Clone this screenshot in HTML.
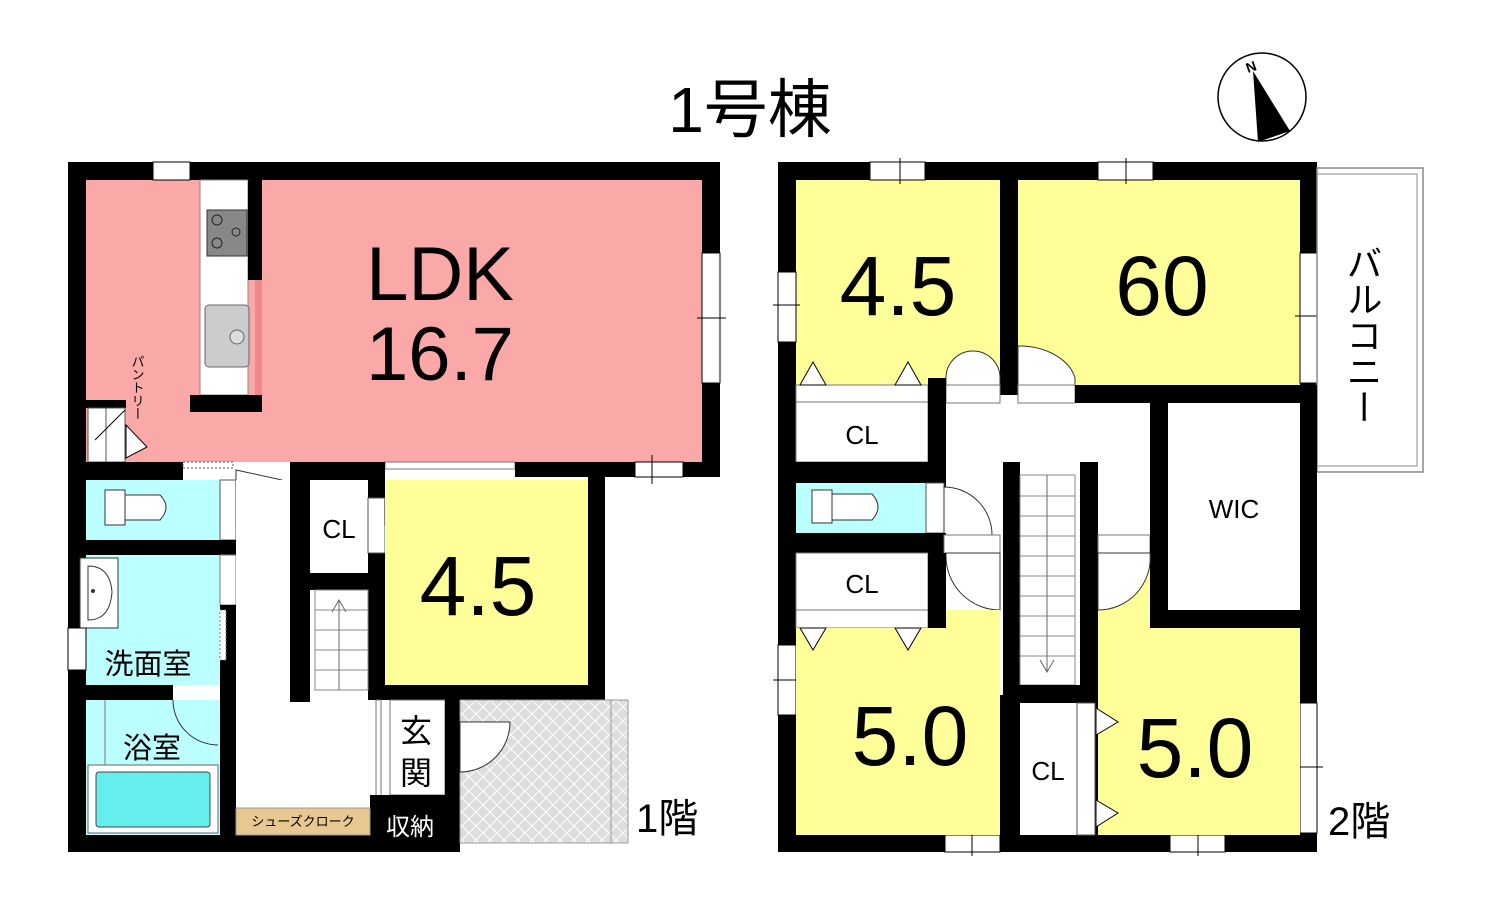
<!DOCTYPE html>
<html><head><meta charset="utf-8"><style>
html,body{margin:0;padding:0;background:#fff}
svg{display:block}
text{font-family:"Liberation Sans","Noto Sans CJK JP",sans-serif}
</style></head><body>
<svg width="1488" height="898" viewBox="0 0 1488 898" xmlns="http://www.w3.org/2000/svg">
<defs>
<pattern id="hatch" width="14" height="14" patternUnits="userSpaceOnUse">
<rect width="14" height="14" fill="#ddd"/>
<path d="M0 0L14 14M14 0L0 14" stroke="#fff" stroke-width="1"/>
</pattern>
</defs>
<text x="750" y="132" font-size="64" text-anchor="middle">1号棟</text>
<!-- compass -->
<circle cx="1262" cy="97" r="44" fill="#fff" stroke="#000" stroke-width="1.5"/>
<polygon points="1253,71 1258,142 1290,131" fill="#000"/>
<text x="1246" y="72" font-size="14" font-family="Liberation Serif" transform="rotate(-20 1250 67)" font-weight="bold">N</text>

<!-- ===== 1F ===== -->
<rect x="68" y="162" width="652" height="300" fill="#000"/>
<rect x="86" y="180" width="616" height="282" fill="#fba8a8"/>
<text x="440" y="300" font-size="76" text-anchor="middle">LDK</text>
<text x="440" y="380" font-size="76" text-anchor="middle">16.7</text>
<!-- kitchen -->
<rect x="200" y="180" width="48" height="215" fill="#fff" stroke="#888" stroke-width="1"/>
<rect x="248" y="180" width="14" height="100" fill="#000"/>
<rect x="190" y="395" width="72" height="17" fill="#000"/>
<rect x="255" y="280" width="7" height="115" fill="#f08a8a"/>
<rect x="207" y="210" width="40" height="46" fill="#888" stroke="#333"/>
<circle cx="217" cy="220" r="5" fill="none" stroke="#222"/><circle cx="217" cy="243" r="5" fill="none" stroke="#222"/><circle cx="236" cy="232" r="4" fill="none" stroke="#222"/>
<rect x="205" y="305" width="44" height="62" rx="4" fill="#ccc" stroke="#666"/>
<circle cx="237" cy="337" r="7" fill="#ddd" stroke="#666"/>
<!-- windows top/right -->
<rect x="153" y="162" width="37" height="18" fill="#fff" stroke="#000"/>
<rect x="702" y="253" width="18" height="130" fill="#fff" stroke="#000"/>
<line x1="697" y1="318" x2="726" y2="318" stroke="#000"/>
<!-- pantry -->
<rect x="86" y="400" width="40" height="8" fill="#000"/>
<rect x="88" y="408" width="37" height="54" fill="#fff" stroke="#555"/>
<line x1="106" y1="408" x2="106" y2="462" stroke="#555"/>
<line x1="95" y1="440" x2="125" y2="410" stroke="#000"/>
<polygon points="126,425 147,447 126,458" fill="#fff" stroke="#000"/>
<text font-size="13" x="137" y="355" writing-mode="tb">パントリー</text>
<!-- lower outer walls -->
<rect x="68" y="462" width="18" height="390" fill="#000"/>
<rect x="68" y="835" width="392" height="17" fill="#000"/>
<rect x="68" y="462" width="115" height="18" fill="#000"/>
<rect x="183" y="462" width="50" height="6" fill="#fff" stroke="#555" stroke-dasharray="2 2"/>
<rect x="290" y="462" width="95" height="18" fill="#000"/>
<rect x="385" y="462" width="130" height="7" fill="#fff" stroke="#777"/>
<rect x="515" y="462" width="205" height="15" fill="#000"/>
<rect x="635" y="462" width="48" height="15" fill="#fff" stroke="#000"/>
<line x1="652" y1="455" x2="652" y2="484" stroke="#000"/>
<!-- toilet 1F -->
<rect x="86" y="480" width="134" height="60" fill="#bff"/>
<rect x="105" y="490" width="20" height="35" fill="#fff" stroke="#333"/>
<path d="M125 495 H160 Q172 507 160 520 H125 Z" fill="#fff" stroke="#333"/>
<rect x="220" y="480" width="16" height="75" fill="#000"/>
<rect x="220" y="480" width="16" height="60" fill="#fff" stroke="#555"/>
<path d="M236 470 V527 A40 40 0 0 0 282 480 Z" fill="#fff" stroke="#333"/>
<rect x="68" y="540" width="168" height="15" fill="#000"/>
<!-- washroom -->
<rect x="86" y="555" width="134" height="130" fill="#bff"/>
<rect x="80" y="558" width="38" height="70" fill="#fff" stroke="#333"/>
<path d="M88 566 Q110 566 112 592 Q110 620 88 620 Z" fill="#fff" stroke="#333"/>
<circle cx="93" cy="591" r="2" fill="#333"/>
<rect x="68" y="628" width="18" height="42" fill="#fff" stroke="#000"/>
<rect x="220" y="555" width="16" height="50" fill="#fff" stroke="#777"/>
<rect x="220" y="605" width="16" height="230" fill="#000"/>
<rect x="220" y="610" width="6" height="50" fill="#fff" stroke="#777" stroke-dasharray="2 2"/>
<text x="148" y="674" font-size="29" text-anchor="middle">洗面室</text>
<rect x="68" y="685" width="105" height="15" fill="#000"/>
<!-- bath -->
<rect x="86" y="700" width="134" height="135" fill="#bff"/>
<rect x="173" y="685" width="47" height="15" fill="#fff"/>
<path d="M173 700 A45 45 0 0 0 218 745" fill="none" stroke="#333"/>
<line x1="105" y1="700" x2="105" y2="765" stroke="#777"/>
<text x="152" y="758" font-size="29" text-anchor="middle">浴室</text>
<rect x="88" y="765" width="130" height="68" fill="#fff" stroke="#666"/>
<rect x="96" y="772" width="114" height="55" rx="3" fill="#6ee" stroke="#444"/>
<!-- hallway / CL / stairs -->
<rect x="236" y="480" width="140" height="355" fill="#fff"/>
<rect x="290" y="462" width="20" height="240" fill="#000"/>
<rect x="310" y="480" width="58" height="93" fill="#fff"/>
<text x="339" y="538" font-size="26" text-anchor="middle">CL</text>
<rect x="368" y="462" width="17" height="238" fill="#000"/>
<rect x="368" y="498" width="17" height="55" fill="#fff" stroke="#555"/>
<polygon points="385,500 407,512 385,525" fill="#fff" stroke="#000"/>
<rect x="310" y="573" width="58" height="17" fill="#000"/>
<rect x="315" y="590" width="53" height="100" fill="#fff" stroke="#888"/>
<g stroke="#888"><line x1="315" y1="610" x2="368" y2="610"/><line x1="315" y1="630" x2="368" y2="630"/><line x1="315" y1="650" x2="368" y2="650"/><line x1="315" y1="670" x2="368" y2="670"/></g>
<line x1="339" y1="600" x2="339" y2="690" stroke="#666"/>
<polyline points="332,612 339,600 346,612" fill="none" stroke="#666"/>
<!-- 4.5 room -->
<rect x="385" y="480" width="203" height="205" fill="#ffff99"/>
<rect x="588" y="462" width="17" height="238" fill="#000"/>
<rect x="370" y="685" width="235" height="15" fill="#000"/>
<text x="478" y="615" font-size="84" text-anchor="middle">4.5</text>
<!-- genkan -->
<rect x="390" y="700" width="55" height="95" fill="#fff" stroke="#777"/>
<rect x="376" y="700" width="5" height="100" fill="#fff" stroke="#777"/>
<text x="416" y="742" font-size="32" text-anchor="middle">玄</text>
<text x="416" y="784" font-size="32" text-anchor="middle">関</text>
<rect x="445" y="700" width="15" height="152" fill="#000"/>
<rect x="370" y="795" width="90" height="57" fill="#000"/>
<text x="410" y="835" font-size="24" text-anchor="middle" fill="#fff">収納</text>
<rect x="236" y="808" width="134" height="27" fill="#e8c890" stroke="#999"/>
<text x="303" y="826" font-size="13" text-anchor="middle">シューズクローク</text>
<!-- porch -->
<rect x="460" y="700" width="168" height="143" fill="url(#hatch)" stroke="#999"/>
<line x1="611" y1="700" x2="611" y2="843" stroke="#999"/>
<path d="M460 722 H510 A50 50 0 0 1 460 772 Z" fill="#fff" stroke="#333"/>
<text x="636" y="832" font-size="40">1階</text>

<!-- ===== 2F ===== -->
<rect x="778" y="162" width="539" height="690" fill="#000"/>
<rect x="796" y="180" width="204" height="205" fill="#ffff99"/>
<rect x="1018" y="180" width="282" height="205" fill="#ffff99"/>
<text x="898" y="315" font-size="84" text-anchor="middle">4.5</text>
<text x="1162" y="315" font-size="84" text-anchor="middle">60</text>
<!-- windows -->
<rect x="870" y="162" width="55" height="18" fill="#fff" stroke="#000"/>
<line x1="900" y1="158" x2="900" y2="184" stroke="#000"/>
<rect x="1098" y="162" width="55" height="18" fill="#fff" stroke="#000"/>
<line x1="1126" y1="158" x2="1126" y2="184" stroke="#000"/>
<rect x="778" y="272" width="18" height="70" fill="#fff" stroke="#000"/>
<line x1="773" y1="305" x2="800" y2="305" stroke="#000"/>
<rect x="1300" y="253" width="17" height="130" fill="#fff" stroke="#000"/>
<line x1="1295" y1="316" x2="1323" y2="316" stroke="#000"/>
<rect x="778" y="645" width="18" height="70" fill="#fff" stroke="#000"/>
<line x1="773" y1="680" x2="800" y2="680" stroke="#000"/>
<rect x="1300" y="703" width="17" height="130" fill="#fff" stroke="#000"/>
<line x1="1295" y1="767" x2="1323" y2="767" stroke="#000"/>
<rect x="945" y="835" width="55" height="17" fill="#fff" stroke="#000"/>
<line x1="972" y1="830" x2="972" y2="856" stroke="#000"/>
<rect x="1170" y="835" width="55" height="17" fill="#fff" stroke="#000"/>
<line x1="1198" y1="830" x2="1198" y2="856" stroke="#000"/>
<!-- balcony -->
<rect x="1317" y="168" width="106" height="304" fill="#fff" stroke="#888" stroke-width="1.5"/>
<rect x="1317" y="174" width="100" height="292" fill="none" stroke="#888"/>
<text x="1362" y="245" font-size="36" writing-mode="tb">バルコニー</text>
<!-- hallway -->
<rect x="946" y="395" width="204" height="300" fill="#fff"/>
<!-- doors upper -->
<path d="M946 385 V378 A27 27 0 0 1 1000 378 V385 Z" fill="#fff" stroke="#333"/>
<rect x="946" y="385" width="54" height="18" fill="#fff" stroke="#777"/>
<path d="M1018 385 V346 A57 40 0 0 1 1075 378 V385 Z" fill="#fff" stroke="#333"/>
<rect x="1018" y="385" width="57" height="18" fill="#fff" stroke="#777"/>
<rect x="1075" y="385" width="242" height="18" fill="#000"/>
<rect x="1210" y="385" width="50" height="18" fill="#fff"/>
<!-- CL top -->
<rect x="796" y="385" width="132" height="77" fill="#fff" stroke="#777"/>
<line x1="796" y1="402" x2="928" y2="402" stroke="#777"/>
<polygon points="800,385 813,362 826,385" fill="#fff" stroke="#000"/>
<polygon points="895,385 908,362 921,385" fill="#fff" stroke="#000"/>
<text x="862" y="444" font-size="26" text-anchor="middle">CL</text>
<rect x="928" y="378" width="18" height="85" fill="#000"/>
<rect x="778" y="462" width="168" height="21" fill="#000"/>
<!-- toilet 2F -->
<rect x="796" y="483" width="130" height="50" fill="#bff"/>
<rect x="812" y="490" width="20" height="33" fill="#fff" stroke="#333"/>
<path d="M832 494 H872 Q884 507 872 520 H832 Z" fill="#fff" stroke="#333"/>
<rect x="926" y="483" width="18" height="50" fill="#fff" stroke="#555"/>
<path d="M944 487 A48 48 0 0 1 992 535 H944 Z" fill="#fff" stroke="#333"/>
<rect x="778" y="533" width="168" height="20" fill="#000"/>
<rect x="944" y="535" width="56" height="18" fill="#fff" stroke="#777"/>
<path d="M946 553 V555 A54 54 0 0 0 1000 610 V553 Z" fill="#fff" stroke="#333"/>
<!-- CL mid -->
<rect x="796" y="553" width="132" height="75" fill="#fff" stroke="#777"/>
<line x1="796" y1="610" x2="928" y2="610" stroke="#777"/>
<text x="862" y="593" font-size="26" text-anchor="middle">CL</text>
<rect x="928" y="553" width="18" height="75" fill="#000"/>
<!-- room 5.0 left -->
<rect x="796" y="628" width="204" height="207" fill="#ffff99"/>
<rect x="946" y="610" width="54" height="18" fill="#ffff99"/>
<polygon points="800,628 813,650 826,628" fill="#fff" stroke="#000"/>
<polygon points="895,628 908,650 921,628" fill="#fff" stroke="#000"/>
<text x="910" y="765" font-size="84" text-anchor="middle">5.0</text>
<!-- stairs -->
<rect x="1003" y="462" width="17" height="390" fill="#000"/>
<rect x="1080" y="462" width="18" height="243" fill="#000"/>
<rect x="1020" y="475" width="55" height="210" fill="#fff" stroke="#888"/>
<g stroke="#888"><line x1="1020" y1="496" x2="1075" y2="496"/><line x1="1020" y1="516" x2="1075" y2="516"/><line x1="1020" y1="536" x2="1075" y2="536"/><line x1="1020" y1="556" x2="1075" y2="556"/><line x1="1020" y1="576" x2="1075" y2="576"/><line x1="1020" y1="596" x2="1075" y2="596"/><line x1="1020" y1="616" x2="1075" y2="616"/><line x1="1020" y1="636" x2="1075" y2="636"/><line x1="1020" y1="656" x2="1075" y2="656"/></g>
<line x1="1047" y1="475" x2="1047" y2="672" stroke="#666"/>
<polyline points="1040,660 1047,672 1054,660" fill="none" stroke="#666"/>
<rect x="1003" y="685" width="95" height="18" fill="#000"/>
<!-- door to right room -->
<rect x="1098" y="535" width="52" height="18" fill="#fff" stroke="#777"/>
<!-- WIC -->
<rect x="1150" y="385" width="167" height="243" fill="#000"/>
<rect x="1168" y="403" width="132" height="207" fill="#fff"/>
<text x="1234" y="518" font-size="26" text-anchor="middle">WIC</text>
<!-- room 5.0 right -->
<rect x="1098" y="553" width="52" height="282" fill="#ffff99"/>
<rect x="1098" y="628" width="202" height="207" fill="#ffff99"/>
<path d="M1098 553 V610 A52 52 0 0 0 1150 553 Z" fill="#fff" stroke="#333"/>
<rect x="1020" y="703" width="57" height="132" fill="#fff"/>
<rect x="1077" y="703" width="18" height="132" fill="#fff" stroke="#555"/>
<polygon points="1096,708 1118,722 1096,735" fill="#fff" stroke="#000"/>
<polygon points="1096,800 1118,813 1096,827" fill="#fff" stroke="#000"/>
<text x="1048" y="780" font-size="26" text-anchor="middle">CL</text>
<text x="1195" y="777" font-size="84" text-anchor="middle">5.0</text>
<text x="1328" y="835" font-size="40">2階</text>
</svg>
</body></html>
